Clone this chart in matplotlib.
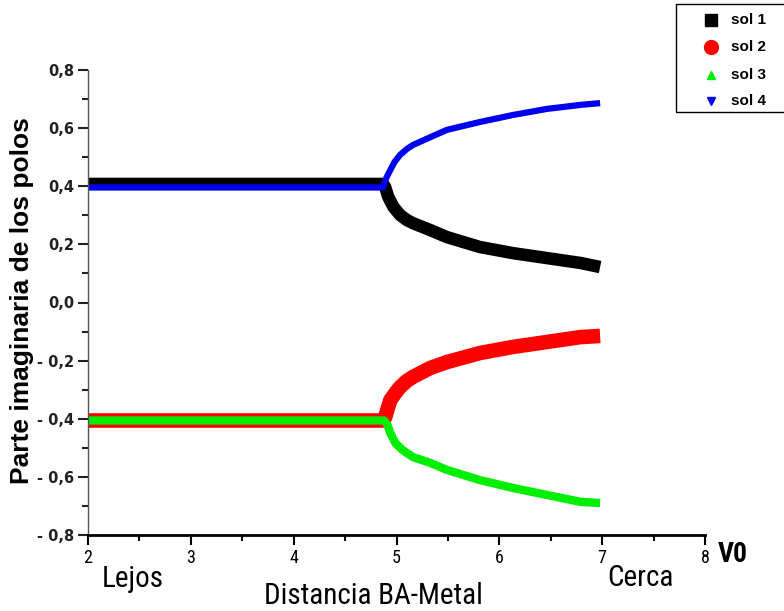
import matplotlib.pyplot as plt
from matplotlib import font_manager
from matplotlib.lines import Line2D
from matplotlib.patches import Rectangle
from matplotlib.ticker import FuncFormatter, MultipleLocator

# valores
x1 = [2.0, 4.87, 4.89, 4.92, 4.97, 5.035, 5.10, 5.16, 5.33, 5.49, 5.81, 6.13, 6.46, 6.79, 6.98]
sol1 = [0.408, 0.408, 0.397, 0.363, 0.329, 0.301, 0.284, 0.273, 0.249, 0.225, 0.191, 0.170, 0.153, 0.136, 0.122]
x4 = [2.0, 4.87, 4.90, 4.94, 4.98, 5.035, 5.10, 5.16, 5.33, 5.49, 5.81, 6.13, 6.46, 6.79, 6.98]
sol4 = [0.396, 0.396, 0.428, 0.456, 0.483, 0.508, 0.528, 0.542, 0.569, 0.594, 0.621, 0.645, 0.666, 0.680, 0.686]
x2 = [2.0, 4.87, 4.89, 4.91, 4.94, 4.99, 5.035, 5.10, 5.16, 5.33, 5.49, 5.81, 6.13, 6.46, 6.79, 6.98]
sol2 = [-0.406, -0.406, -0.395, -0.370, -0.336, -0.311, -0.291, -0.270, -0.256, -0.225, -0.205, -0.174, -0.153, -0.136, -0.119, -0.115]
x3 = [2.0, 4.88, 4.91, 4.94, 4.99, 5.06, 5.16, 5.33, 5.49, 5.81, 6.13, 6.46, 6.79, 6.98]
sol3 = [-0.406, -0.406, -0.420, -0.449, -0.484, -0.508, -0.532, -0.552, -0.576, -0.611, -0.638, -0.662, -0.686, -0.690]

nombres = ["sol 1", "sol 2", "sol 3", "sol 4"]

disponibles = {f.name for f in font_manager.fontManager.ttflist}
estrecha = "Liberation Sans"
for nombre in ["Liberation Sans Narrow", "DejaVu Sans Condensed", "Roboto Condensed"]:
    if nombre in disponibles:
        estrecha = nombre
        break

fig = plt.figure(figsize=(7.84, 6.11), dpi=100)
ax = fig.add_axes([88/784, 1-535/611, (705-88)/784, (535-70)/611])

ax.plot(x1, sol1, color="black", lw=9, solid_capstyle="butt", solid_joinstyle="round")
ax.plot(x2, sol2, color="red", lw=10.5, solid_capstyle="butt", solid_joinstyle="round")
ax.plot(x3, sol3, color="#00ee00", lw=6, solid_capstyle="butt", solid_joinstyle="round")
ax.plot(x4, sol4, color="#0000ee", lw=4.5, solid_capstyle="butt", solid_joinstyle="round")

ax.set_xlim(2, 8)
ax.set_ylim(-0.8, 0.8)
for s in ["top", "right"]:
    ax.spines[s].set_visible(False)
ax.spines["left"].set_color("#555555")
ax.spines["left"].set_linewidth(1)
ax.spines["bottom"].set_linewidth(2)

def fmt(v, pos):
    t = f"{abs(v):.1f}".replace(".", ",")
    return "- " + t if v < -1e-9 else t

ax.yaxis.set_major_locator(MultipleLocator(0.2))
ax.yaxis.set_minor_locator(MultipleLocator(0.1))
ax.yaxis.set_major_formatter(FuncFormatter(fmt))
ax.xaxis.set_major_locator(MultipleLocator(1))
ax.xaxis.set_minor_locator(MultipleLocator(0.5))
ax.tick_params(axis="y", which="major", length=7, width=1.5, color="#222222", pad=3)
ax.tick_params(axis="y", which="minor", length=4, width=1.5, color="#222222")
ax.tick_params(axis="x", which="major", length=7, width=1.5, pad=3)
ax.tick_params(axis="x", which="minor", length=4, width=1.5)
for lab in ax.get_yticklabels():
    lab.set_fontsize(10.5)
    lab.set_fontweight("bold")
    lab.set_color("#222222")
for lab in ax.get_xticklabels():
    lab.set_fontsize(13)
    lab.set_family([estrecha, "DejaVu Sans"])

fig.text(22/784, 1-301/611, "Parte imaginaria de los polos", rotation=90,
         ha="center", va="center", fontsize=19, fontweight="bold",
         family=["Liberation Sans", "DejaVu Sans"])
fig.text(733/784, 1-554/611, "V0", ha="center", va="center", fontsize=20,
         fontweight="bold", family=[estrecha, "DejaVu Sans"])
fig.text(133/784, 1-579/611, "Lejos", ha="center", va="center", fontsize=21,
         family=[estrecha, "DejaVu Sans"])
fig.text(640/784, 1-578/611, "Cerca", ha="center", va="center", fontsize=21,
         family=[estrecha, "DejaVu Sans"])
fig.text(373/784, 1-596/611, "Distancia BA-Metal", ha="center", va="center",
         fontsize=21, family=[estrecha, "DejaVu Sans"])

# leyenda
fig.patches.append(Rectangle((676/784, 1-112/611), 120/784, 108/611,
                             transform=fig.transFigure, fill=False,
                             edgecolor="black", lw=1))
marcas = [("s", "black", 8), ("o", "red", 10), ("^", "#00ee00", 6), ("v", "#0000ee", 6)]
filas = [20, 47, 75, 101]
for (m, c, ms), yy, nom in zip(marcas, filas, nombres):
    fig.add_artist(Line2D([711/784], [1-yy/611], marker=m, color=c, ms=ms,
                          ls="none", transform=fig.transFigure))
    fig.text(731/784, 1-yy/611, nom, ha="left", va="center", fontsize=11,
             fontweight="bold", family=["Liberation Sans", "DejaVu Sans"])

fig.savefig("out.png", dpi=100)
